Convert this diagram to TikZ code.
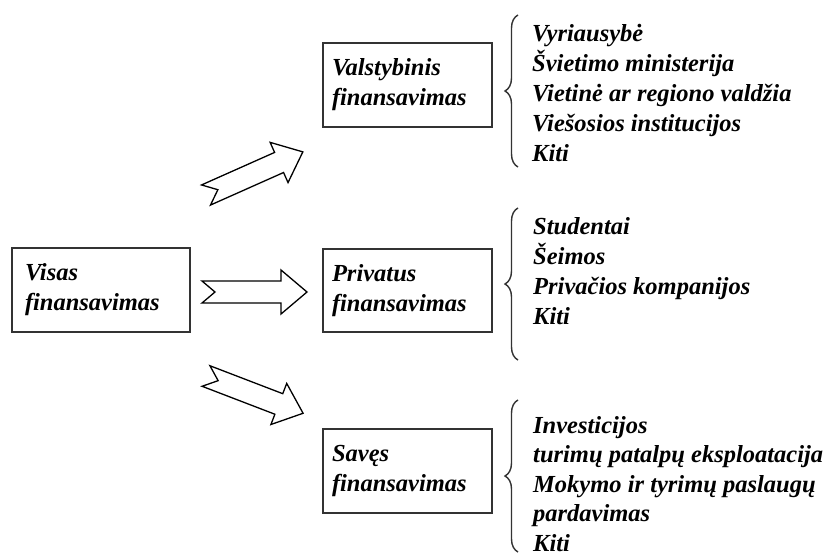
\documentclass[tikz,border=0pt]{standalone}
\usepackage{fontspec}
\setmainfont{Liberation Serif}
\usetikzlibrary{decorations.pathreplacing}
\definecolor{edge}{HTML}{333333}
\newcommand\blockarrow[3]{%
  \begin{scope}[shift={(#1)}, rotate=#2]
    \draw[barrow] (0,11) -- (#3-26,11) -- (#3-26,22) -- (#3,0) -- (#3-26,-22) -- (#3-26,-11) -- (0,-11) -- (13,0) -- cycle;
  \end{scope}}
\begin{document}
\begin{tikzpicture}[x=1pt, y=-1pt,
  txt/.style={font=\fontsize{24.5}{30}\selectfont\bfseries\itshape},
  box/.style={txt, draw=edge, line width=1.8pt, fill=white, align=left,
    minimum height=84pt, inner ysep=0pt, inner xsep=9pt, text width=151pt},
  lst/.style={txt, align=left, inner sep=0pt, anchor=west},
  barrow/.style={draw=black, line width=1.3pt, fill=white, line join=miter},
  brc/.style={draw=edge, line width=1.4pt, decorate, decoration={brace, amplitude=13pt}}]
\useasboundingbox (0,0) rectangle (832,557);
\fill[white] (0,0) rectangle (832,557);

\node[box, inner xsep=13pt, text width=152pt] (visas) at (101,290) {Visas\\finansavimas};
\node[box] (valst) at (407.5,85) {Valstybinis\\finansavimas};
\node[box, minimum height=83pt] (priv) at (407.5,290.5) {Privatus\\finansavimas};
\node[box] (saves) at (407.5,471) {Savęs\\finansavimas};

\coordinate (a1) at (206,195);
\coordinate (a2) at (202,292);
\coordinate (a3) at (206,376);
\blockarrow{a1}{24}{106}
\blockarrow{a2}{0}{105}
\blockarrow{a3}{-21}{104}

\coordinate (b1s) at (518,167); \coordinate (b1e) at (518,15);
\coordinate (b2s) at (518,360); \coordinate (b2e) at (518,208);
\coordinate (b3s) at (518,552); \coordinate (b3e) at (518,400);
\draw[brc] (b1s) -- (b1e);
\draw[brc] (b2s) -- (b2e);
\draw[brc] (b3s) -- (b3e);

\node[lst] (l1) at (532,92.5) {Vyriausybė\\Švietimo ministerija\\Vietinė ar regiono valdžia\\Viešosios institucijos\\Kiti};
\node[lst] (l2) at (533,271) {Studentai\\Šeimos\\Privačios kompanijos\\Kiti};
\node[lst, font=\fontsize{24.5}{29.5}\selectfont\bfseries\itshape] (l3) at (533,484) {Investicijos\\turimų patalpų eksploatacija\\Mokymo ir tyrimų paslaugų\\pardavimas\\Kiti};
\end{tikzpicture}
\end{document}
